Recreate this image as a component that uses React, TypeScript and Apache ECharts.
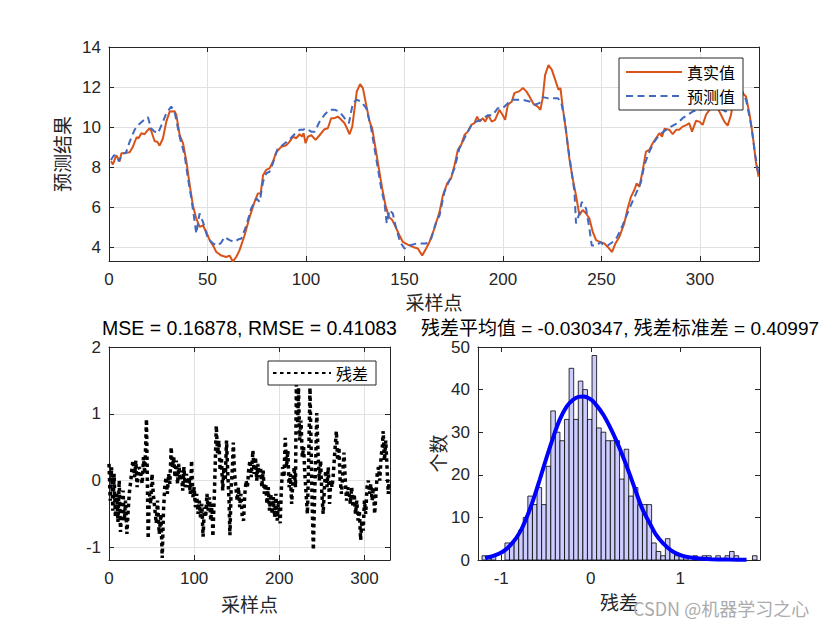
import React, { useEffect, useRef } from "react";
import * as echarts from "echarts";

// ---------- data ----------
const truePts: [number, number][] = [
  [1, 8.3], [2, 8.15], [3.7, 8.6], [5.4, 8.3], [6.3, 8.7], [8, 8.72], [10.5, 8.75], [12, 9.0], [14, 9.5], [15, 9.45],
  [16.4, 9.7], [18.1, 9.65], [19, 9.78], [20.6, 9.95], [21.5, 9.8], [23.2, 9.3], [24.5, 9.28], [25.7, 9.08], [27.4, 9.45],
  [29.1, 10.28], [30.8, 10.78], [33.3, 10.8], [34.2, 10.6], [35.9, 9.6], [37.6, 9.2], [39.3, 8.28], [41, 7.1], [42.6, 6.1],
  [44.3, 5.45], [46, 5.03], [47.7, 5.1], [49.4, 4.78], [51.1, 4.37], [52.8, 4.1], [54.5, 3.78], [57, 3.6], [59.5, 3.53],
  [61.2, 3.6], [62.9, 3.3], [64.6, 3.53], [66.3, 3.87], [68.8, 4.6], [71.4, 5.53], [73.9, 6.28], [75.6, 6.7], [77, 6.7],
  [78.2, 7.6], [79.8, 7.87], [81.5, 7.95], [83.2, 8.28], [84.9, 8.75], [87.5, 9.03], [90, 9.1], [91.7, 9.28], [93.4, 9.53],
  [95, 9.45], [96.8, 9.65], [98, 9.53], [98.8, 9.7], [99.8, 9.2], [101, 9.53], [102.7, 9.6], [104.9, 9.37], [106.9, 9.6],
  [109.4, 9.9], [111.1, 9.95], [112.8, 10.45], [114.5, 10.45], [116.2, 10.53], [117.9, 10.37], [119.6, 10.2], [120.8, 9.95],
  [122.1, 9.65], [123.5, 10.03], [124.7, 10.95], [125.8, 11.78], [127.5, 12.15], [128.9, 11.95], [130.6, 11.1], [132.3, 10.28],
  [133.6, 9.95], [135.3, 8.95], [137, 7.95], [138.7, 6.95], [140.4, 6.1], [142.1, 5.53], [143.8, 5.37], [145.5, 5.03],
  [147.5, 4.6], [149.2, 4.28], [151.7, 4.15], [154.3, 4.03], [156.8, 3.95], [159, 3.6], [161, 3.95], [162.7, 4.28],
  [165.2, 4.95], [167.8, 5.78], [169.5, 6.6], [171.7, 7.2], [173.7, 7.45], [175.4, 8.1], [177.1, 8.87], [178.8, 9.12],
  [180.5, 9.62], [182.2, 9.78], [183.9, 10.12], [185.5, 10.2], [186.9, 10.53], [188.1, 10.28], [189.8, 10.45], [191, 10.28],
  [192.6, 10.6], [194.3, 10.28], [196, 10.37], [198.2, 10.87], [199.9, 10.6], [201.1, 10.37], [202.5, 11.12], [204.5, 11.28],
  [205.8, 11.7], [208.4, 11.8], [210.1, 11.95], [211.8, 11.8], [213.5, 11.53], [215.6, 11.15], [217.7, 11.03], [219, 10.87],
  [220.2, 11.45], [221.4, 12.6], [223.1, 13.1], [224.8, 12.87], [226.5, 12.37], [228.2, 11.87], [229.2, 11.95], [230.4, 10.95],
  [232.1, 9.78], [233.7, 8.45], [235.4, 7.45], [237.1, 6.6], [238.8, 5.62], [240.5, 5.87], [242.2, 5.7], [243.9, 5.45],
  [245.6, 4.78], [247.3, 4.37], [249.8, 4.25], [251.5, 4.2], [253.2, 4.03], [255.4, 3.78], [257.1, 4.2], [259.1, 4.53],
  [261.6, 5.2], [263.3, 5.95], [265, 6.53], [266.7, 6.87], [267.9, 7.2], [269.3, 7.03], [271, 7.87], [272.6, 8.78],
  [274.3, 8.87], [276, 9.2], [277.7, 9.45], [279.4, 9.7], [280.8, 9.53], [282, 9.92], [284.5, 9.87], [286.2, 9.65],
  [287.9, 9.87], [289.5, 9.87], [291.2, 10.03], [293.3, 10.12], [294.6, 10.2], [296, 9.78], [298, 10.32], [299.7, 10.28],
  [301.4, 10.12], [303.1, 10.62], [305.6, 10.98], [307.3, 11.12], [309, 10.95], [310.7, 10.62], [312.4, 10.28], [314.1, 10.08],
  [315.8, 10.62], [317.5, 11.62], [319.1, 12.03], [320.8, 11.78], [323.4, 11.53], [325.1, 10.7], [326.8, 9.62], [328.4, 8.28],
  [329.8, 7.53],
];

const predPts: [number, number][] = [
  [1, 8.37], [2.5, 8.6], [4, 8.55], [5, 8.3], [7, 8.7], [8.5, 8.7], [10.5, 9.28], [13, 9.87], [14.7, 10.1], [17, 10.3],
  [19, 10.45], [19.8, 10.5], [21.3, 9.95], [23.2, 9.78], [24.9, 9.7], [27.4, 10.28], [29.1, 10.7], [31.6, 11.03], [33.3, 10.78],
  [35.9, 9.5], [38.4, 8.6], [40.1, 7.45], [41.8, 6.45], [43.5, 5.28], [44.3, 4.7], [46, 5.7], [47.7, 5.28], [50.2, 4.45],
  [52.8, 4.2], [55.3, 4.1], [57, 4.25], [58.7, 4.53], [61.2, 4.37], [63.8, 4.28], [65.5, 4.4], [67.2, 4.45], [69.7, 5.1],
  [72.2, 5.95], [74.8, 6.45], [76.5, 6.28], [78.2, 7.28], [79.8, 7.7], [81.5, 7.78], [83.2, 8.2], [85.5, 8.9], [88, 9.1],
  [91.7, 9.4], [94.2, 9.65], [96.8, 9.87], [98.5, 9.87], [99.8, 9.95], [102.7, 9.78], [104.5, 9.78], [106.9, 10.28],
  [109.4, 10.62], [112, 10.87], [114.5, 10.87], [117, 10.78], [119.6, 10.45], [121.8, 10.2], [123.8, 11.2], [125.8, 11.37],
  [128, 11.28], [130.6, 10.95], [133.1, 9.95], [134.8, 8.95], [136.5, 7.95], [138.2, 6.95], [139.9, 6.2], [141, 5.2],
  [142.4, 5.87], [144.1, 5.7], [145.8, 4.95], [147.8, 4.28], [150, 3.95], [152.6, 4.1], [156, 4.2], [161, 4.2], [163.6, 4.45],
  [166.1, 5.28], [167.8, 5.6], [170.3, 6.78], [172.9, 7.37], [175.4, 7.95], [177.9, 8.95], [181.3, 9.62], [183.9, 10.08],
  [186.4, 10.28], [189, 10.37], [192.3, 10.6], [194.8, 10.6], [197.4, 10.95], [199.9, 10.95], [202.5, 11.2], [205, 11.37],
  [210, 11.37], [213.5, 11.28], [216, 11.12], [218.5, 11.2], [220.2, 11.5], [222.7, 11.45], [227.8, 11.45], [229.5, 11.28],
  [231.2, 10.45], [232.9, 9.12], [234.6, 7.95], [236.3, 6.78], [237.1, 5.2], [238.8, 5.7], [240, 6.28], [242.2, 5.95],
  [243.9, 4.95], [245.1, 4.1], [247.3, 4.1], [249.8, 4.28], [250.7, 4.15], [253.2, 4.1], [255.7, 4.28], [258, 4.53],
  [260.8, 5.12], [264.2, 5.95], [267.6, 6.7], [270.1, 7.28], [271.8, 8.12], [274.3, 8.78], [276.9, 9.28], [279.4, 9.62],
  [282.8, 9.87], [285.3, 10.03], [288.7, 10.2], [291.2, 10.45], [293.8, 10.62], [296.3, 10.78], [299.7, 10.87], [303.1, 10.95],
  [306.5, 11.12], [309.8, 10.95], [313.2, 10.78], [315.8, 11.12], [318.3, 11.87], [320.8, 11.95], [323.4, 11.37], [326, 10.12],
  [328.1, 8.6], [329.8, 7.62],
];

const residPts: [number, number][] = [
  [0, 0.25], [1.5, -0.3], [3, 0.2], [4.5, -0.45], [6, 0.1], [7.5, -0.55], [9, -0.2], [10.5, -0.62], [12, 0], [13.5, -0.77],
  [15, -0.4], [16.5, -0.15], [18, -0.6], [19.5, -0.3], [21, -0.8], [22.5, -0.45], [24, -0.17], [26, 0.05], [28, 0.3],
  [30, 0.05], [31.5, 0.3], [33, -0.1], [35, 0.2], [37, 0.15], [39, -0.05], [40.5, 0.35], [42, 0.1], [44, 0.92], [46, -0.87],
  [47.5, -0.2], [49, -0.35], [50.5, 0.1], [52, -0.2], [54, -0.45], [55.5, -0.64], [57, -0.3], [59, -0.8], [61, -0.5],
  [62.5, -1.16], [64, -0.45], [65.5, -0.1], [67, 0.05], [68.5, -0.2], [70, 0.1], [71.5, -0.05], [73, 0.5], [74.5, 0.2],
  [76, 0.35], [77.5, 0.05], [79, 0.3], [80.5, -0.05], [82, 0.25], [83.5, 0.0], [85, 0.15], [86.5, -0.15], [88, 0.2],
  [89.5, -0.1], [91, 0.1], [92.5, -0.1], [94, 0.05], [95.5, -0.2], [97, 0.3], [98.5, -0.25], [100, -0.1], [101.5, -0.4],
  [103, -0.2], [104.5, -0.5], [106, -0.3], [107.5, -0.55], [109, -0.35], [110.5, -0.84], [112, -0.4], [113.5, -0.55],
  [115, -0.2], [116.5, -0.45], [118, -0.25], [119.5, -0.6], [121, -0.35], [122, -0.84], [124, -0.1], [126, 0.82],
  [127.5, 0.4], [129, 0.6], [130.5, 0.15], [132, 0.35], [133.5, -0.15], [135, 0.2], [136.5, 0.0], [138, 0.6], [139.5, 0.1],
  [141, -0.3], [142, -0.82], [143.5, -0.1], [145, 0.2], [146, 0.57], [147.5, 0.1], [149, -0.1], [150.5, -0.3], [152, -0.1],
  [153.5, -0.4], [155, -0.2], [156.5, -0.55], [158, -0.6], [159.5, -0.2], [161, 0.0], [162.5, -0.1], [164, 0.15],
  [165.5, 0.3], [167, 0.05], [169, 0.45], [170.5, 0.1], [172, 0.35], [173.5, 0.0], [175, 0.25], [176.5, 0.05], [178, 0.2],
  [179.5, -0.1], [181, 0.15], [182.5, -0.2], [184, -0.05], [185.5, -0.35], [187, -0.1], [188.5, -0.45], [190, -0.2],
  [191.5, -0.5], [193, -0.25], [194.5, -0.55], [196, -0.2], [197.5, -0.6], [199, -0.3], [201, -0.64], [202.5, -0.1],
  [204, 0.2], [205.5, 0.05], [207, 0.64], [208.5, 0.2], [210, 0.45], [211.5, -0.1], [213, 0.1], [214.5, -0.35], [216, 0.0],
  [217.5, 0.2], [219, -0.1], [220, 1.44], [221.5, 0.8], [222.5, 1.39], [224, 0.6], [225.5, 0.9], [227, 0.35], [228.5, 0.5],
  [230, 0.1], [231.5, -0.2], [233, -0.5], [234.5, 0.3], [236, 1.39], [237.5, 0.4], [238.5, -0.3], [240, -1.04], [241.5, -0.2],
  [243, 0.4], [244, 1.01], [245.5, 0.4], [247, 0.0], [248.5, 0.3], [250, -0.2], [251.5, -0.5], [253, -0.1], [254.5, 0.15],
  [256, -0.1], [257.5, 0.2], [259, -0.35], [260.5, 0.0], [262, -0.1], [263.5, 0.1], [265, 0.4], [267, 0.74], [268.5, 0.3],
  [270, 0.5], [271.5, 0.0], [273, -0.2], [274.5, 0.1], [276, 0.42], [277.5, 0.0], [279, -0.3], [280.5, -0.1], [282, -0.2],
  [283.5, -0.35], [285, -0.1], [286.5, -0.4], [288, -0.2], [289.5, -0.5], [291, -0.3], [292.5, -0.6], [294, -0.45],
  [295.5, -0.89], [297, -0.6], [298.5, -0.75], [300, -0.3], [301.5, -0.5], [303, -0.1], [304.5, 0.0], [306, -0.2],
  [307.5, -0.05], [309, -0.3], [310.5, -0.1], [312, -0.5], [313.5, -0.2], [315, 0.1], [316.5, 0.2], [318, 0.0], [319.5, 0.35],
  [321, 0.5], [322, 0.74], [323.5, 0.3], [325, 0.6], [326.5, 0.2], [328, -0.2], [329, 0.0],
];

// histogram of residuals: 60 bins
const binStart = -1.215;
const binWidth = 0.0512;
const binCounts = [
  1, 1, 1, 0, 0, 4, 4, 5, 7, 10,
  15, 13, 17, 13, 22, 35, 30, 28, 33, 45,
  33, 42, 40, 33, 48, 31, 30, 28, 28, 28,
  19, 26, 15, 17, 13, 13, 13, 4, 2, 1,
  5, 2, 1, 1, 1, 0, 1, 0, 1, 1,
  0, 1, 0, 1, 2, 1, 0, 0, 0, 1,
];

// fitted normal curve
const fitPts: [number, number][] = [
  [-1.18, 0.4], [-1.08, 1.0], [-0.98, 2.0], [-0.88, 3.9], [-0.79, 6.6], [-0.72, 9.8], [-0.645, 14], [-0.57, 18.9],
  [-0.495, 24], [-0.42, 28.8], [-0.346, 33], [-0.27, 36], [-0.198, 37.6], [-0.14, 38.3], [-0.078, 38.4], [0.0, 37.7],
  [0.064, 36.3], [0.14, 34.1], [0.212, 31.3], [0.29, 27.8], [0.361, 24.2], [0.44, 19.8], [0.511, 15.6], [0.58, 11.8],
  [0.659, 8.6], [0.73, 5.9], [0.808, 3.9], [0.9, 2.2], [0.994, 1.2], [1.09, 0.65], [1.18, 0.4], [1.35, 0.2], [1.55, 0.1],
  [1.74, 0.05],
];

// tick labels
const topXTicks = [0, 50, 100, 150, 200, 250, 300];
const topYTicks = [4, 6, 8, 10, 12, 14];
const resXTicks = [0, 100, 200, 300];
const resYTicks = [-1, 0, 1, 2];
const histXTicks = [-1, 0, 1];
const histYTicks = [0, 10, 20, 30, 40, 50];

const titleLeft = "MSE = 0.16878, RMSE = 0.41083";
const titleRight = "残差平均值 = -0.030347, 残差标准差 = 0.40997";

const FONT = "'Liberation Sans', Arial, 'Noto Sans CJK SC', sans-serif";
const CJK = "'Noto Sans CJK SC', 'Liberation Sans', sans-serif";
const AX = "#262626";

function mkAxis(kind: "x" | "y", gridIndex: number, min: number, max: number, ticks: number[], opts: any = {}) {
  const { labels = true, mirror = false, split = false, name = "", nameGap = 30 } = opts;
  return {
    type: "value",
    gridIndex,
    position: kind === "x" ? (mirror ? "top" : "bottom") : mirror ? "right" : "left",
    min,
    max,
    name,
    nameLocation: "middle",
    nameGap,
    nameTextStyle: { fontFamily: CJK, fontSize: 19, color: AX },
    axisLine: { show: true, onZero: false, lineStyle: { color: AX, width: 1 } },
    axisTick: { show: true, inside: true, length: 5, customValues: ticks, lineStyle: { color: AX, width: 1 } },
    axisLabel: {
      show: labels,
      customValues: ticks,
      color: AX,
      fontSize: 17,
      fontFamily: FONT,
      margin: kind === "x" ? 10 : 8,
    },
    splitLine: { show: split, lineStyle: { color: "#e1e1e1", width: 1 } },
  };
}

export default function App() {
  const ref = useRef<HTMLDivElement>(null);
  useEffect(() => {
    document.body.style.margin = "0";
    const chart = echarts.init(ref.current!, null, { renderer: "svg" });
    const histData = binCounts.map((c, i) => [binStart + i * binWidth, binStart + (i + 1) * binWidth, c]);
    const legendCommon = {
      backgroundColor: "#ffffff",
      borderColor: AX,
      borderWidth: 1,
      borderRadius: 0,
      textStyle: { fontFamily: CJK, fontSize: 16, color: "#000" },
      itemStyle: { opacity: 0 },
      selectedMode: false,
    };
    const option: any = {
      animation: false,
      backgroundColor: "#ffffff",
      grid: [
        { left: 109, top: 47, width: 650, height: 214 },
        { left: 109, top: 347, width: 281, height: 213 },
        { left: 478, top: 347, width: 282, height: 213 },
      ],
      xAxis: [
        mkAxis("x", 0, 0, 330, topXTicks, { split: true, name: "采样点", nameGap: 31 }),
        mkAxis("x", 0, 0, 330, topXTicks, { labels: false, mirror: true }),
        mkAxis("x", 1, 0, 330, resXTicks, { split: true, name: "采样点", nameGap: 34 }),
        mkAxis("x", 1, 0, 330, resXTicks, { labels: false, mirror: true }),
        mkAxis("x", 2, -1.26, 1.89, histXTicks, { name: "残差", nameGap: 32 }),
        mkAxis("x", 2, -1.26, 1.89, histXTicks, { labels: false, mirror: true }),
      ],
      yAxis: [
        mkAxis("y", 0, 3.33, 14, topYTicks, { split: true, name: "预测结果", nameGap: 33 }),
        mkAxis("y", 0, 3.33, 14, topYTicks, { labels: false, mirror: true }),
        mkAxis("y", 1, -1.19, 2, resYTicks, { split: true }),
        mkAxis("y", 1, -1.19, 2, resYTicks, { labels: false, mirror: true }),
        mkAxis("y", 2, 0, 50, histYTicks, { name: "个数", nameGap: 31 }),
        mkAxis("y", 2, 0, 50, histYTicks, { labels: false, mirror: true }),
      ],
      legend: [
        {
          ...legendCommon,
          data: ["真实值", "预测值"],
          orient: "vertical",
          left: 619,
          top: 58,
          itemWidth: 56,
          itemHeight: 14,
          itemGap: 8,
          padding: [6, 8, 6, 6],
        },
        {
          ...legendCommon,
          data: ["残差"],
          left: 268,
          top: 361,
          itemWidth: 58,
          itemHeight: 14,
          padding: [4, 8, 4, 4],
        },
      ],
      series: [
        {
          name: "真实值",
          type: "line",
          xAxisIndex: 0,
          yAxisIndex: 0,
          data: truePts,
          symbol: "none",
          lineStyle: { color: "#D95319", width: 2 },
          itemStyle: { color: "#D95319" },
          z: 3,
        },
        {
          name: "预测值",
          type: "line",
          xAxisIndex: 0,
          yAxisIndex: 0,
          data: predPts,
          symbol: "none",
          lineStyle: { color: "#4169C0", width: 2, type: [7, 4.5] },
          itemStyle: { color: "#4169C0" },
          z: 3,
        },
        {
          name: "残差",
          type: "line",
          xAxisIndex: 2,
          yAxisIndex: 2,
          data: residPts,
          symbol: "none",
          lineStyle: { color: "#000", width: 3.5, type: [3.5, 3.5] },
          itemStyle: { color: "#000" },
          z: 3,
        },
        {
          name: "hist",
          type: "custom",
          xAxisIndex: 4,
          yAxisIndex: 4,
          data: histData,
          encode: { x: [0, 1], y: 2 },
          renderItem: (params: any, api: any) => {
            const c = api.value(2);
            if (!c) return null;
            const p0 = api.coord([api.value(0), c]);
            const p1 = api.coord([api.value(1), 0]);
            return {
              type: "rect",
              shape: { x: p0[0], y: p0[1], width: p1[0] - p0[0], height: p1[1] - p0[1] },
              style: { fill: "#ccccff", stroke: "#000", lineWidth: 0.8 },
            };
          },
          z: 2,
        },
        {
          name: "fit",
          type: "line",
          xAxisIndex: 4,
          yAxisIndex: 4,
          data: fitPts,
          symbol: "none",
          smooth: 0.3,
          lineStyle: { color: "#0000ff", width: 4 },
          itemStyle: { color: "#0000ff" },
          z: 4,
        },
      ],
      graphic: [
        {
          type: "text",
          x: 249.5,
          y: 328,
          style: { text: titleLeft, fill: "#000", font: `19.5px ${FONT}`, textAlign: "center", textVerticalAlign: "middle" },
        },
        {
          type: "text",
          x: 620,
          y: 328,
          style: { text: titleRight, fill: "#000", font: `19px ${FONT}`, textAlign: "center", textVerticalAlign: "middle" },
        },
        {
          type: "text",
          x: 633,
          y: 608,
          z: 100,
          style: { text: "CSDN @机器学习之心", fill: "#ababab", font: `18px ${CJK}`, textAlign: "left", textVerticalAlign: "middle" },
        },
      ],
    };
    chart.setOption(option);
    return () => chart.dispose();
  }, []);
  return <div ref={ref} style={{ width: 840, height: 630 }} />;
}
